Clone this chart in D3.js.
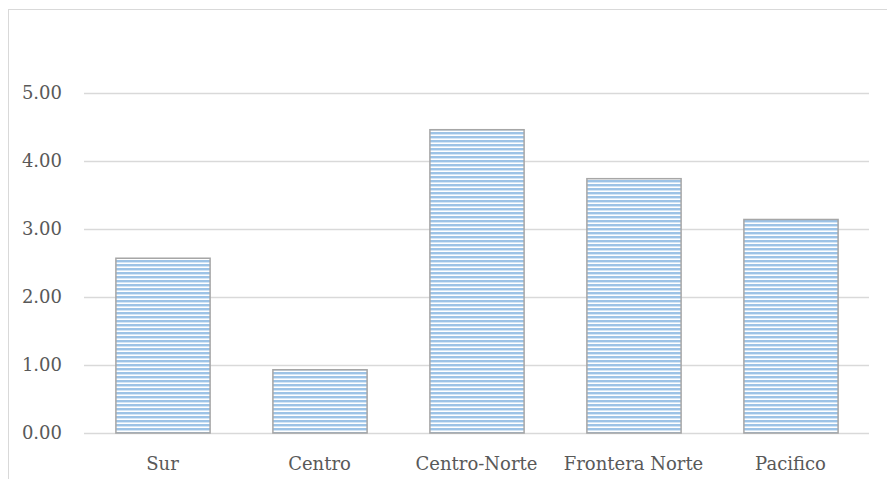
<!DOCTYPE html>
<html>
<head>
<meta charset="utf-8">
<script src="https://cdn.jsdelivr.net/npm/d3@7"></script>
<style>
  html, body { margin: 0; padding: 0; background: #fff; }
  svg { display: block; }
  text { font-family: "DejaVu Serif", serif; }
</style>
</head>
<body>
<svg id="chart" width="887" height="479"></svg>
<script>
// Regional values
const categories = ["Sur", "Centro", "Centro-Norte", "Frontera Norte", "Pacifico"];
const values = [2.57, 0.93, 4.46, 3.74, 3.14];
const tickValues = [0, 1, 2, 3, 4, 5];

const svg = d3.select("#chart");
const W = 887, H = 479;
const plot = { left: 84, right: 869, top: 25, bottom: 433 };

// Outer chart frame (left, top, right edges visible)
svg.append("rect")
  .attr("x", 8.5).attr("y", 9.5)
  .attr("width", W - 8).attr("height", H)
  .attr("fill", "none").attr("stroke", "#d9d9d9").attr("stroke-width", 1);

// Horizontal stripe fill
const defs = svg.append("defs");
const pat = defs.append("pattern")
  .attr("id", "stripes")
  .attr("patternUnits", "userSpaceOnUse")
  .attr("width", 8).attr("height", 4);
pat.append("rect").attr("width", 8).attr("height", 4).attr("fill", "#ffffff");
pat.append("rect").attr("y", 0).attr("width", 8).attr("height", 2).attr("fill", "#9dc3e6");
pat.append("rect").attr("y", 2).attr("width", 8).attr("height", 1).attr("fill", "#d4e6f6");

const x = d3.scaleBand()
  .domain(categories)
  .range([plot.left, plot.right])
  .paddingInner(0.4)
  .paddingOuter(0.2);

const y = d3.scaleLinear()
  .domain([0, 6])
  .range([plot.bottom, plot.bottom - 6 * 68]);

// Gridlines
svg.append("g")
  .selectAll("line")
  .data(tickValues)
  .join("line")
  .attr("x1", plot.left).attr("x2", plot.right)
  .attr("y1", d => Math.round(y(d)) + 0.5)
  .attr("y2", d => Math.round(y(d)) + 0.5)
  .attr("stroke", "#d9d9d9").attr("stroke-width", 1.5);

// Y tick labels
svg.append("g")
  .selectAll("text")
  .data(tickValues)
  .join("text")
  .attr("x", 62)
  .attr("y", d => y(d))
  .attr("dy", "0.35em")
  .attr("text-anchor", "end")
  .attr("font-size", 18)
  .attr("fill", "#595959")
  .text(d => d3.format(".2f")(d));

// Category labels
svg.append("g")
  .selectAll("text")
  .data(categories)
  .join("text")
  .attr("x", d => x(d) + x.bandwidth() / 2)
  .attr("y", 470)
  .attr("text-anchor", "middle")
  .attr("font-size", 18)
  .attr("fill", "#595959")
  .text(d => d);

// Bars
svg.append("g")
  .selectAll("rect")
  .data(values)
  .join("rect")
  .attr("x", (d, i) => x(categories[i]) + 0.5)
  .attr("y", d => y(d))
  .attr("width", x.bandwidth())
  .attr("height", d => y(0) - y(d))
  .attr("fill", "url(#stripes)")
  .attr("stroke", "#a6a6a6")
  .attr("stroke-width", 1.5);
</script>
</body>
</html>
